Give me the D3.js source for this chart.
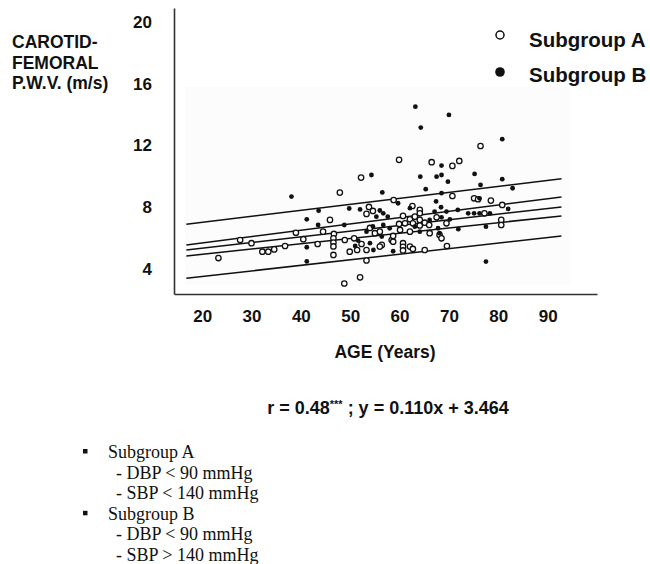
<!DOCTYPE html>
<html><head><meta charset="utf-8">
<script src="https://cdn.jsdelivr.net/npm/d3@7"></script>
<style>
html,body{margin:0;padding:0;background:#fff;}
svg{display:block;}
</style></head>
<body>
<script>
// ---- DATA ----
const xTicks = [20, 30, 40, 50, 60, 70, 80, 90];
const yTicks = [4, 8, 12, 16, 20];

// Subgroup A (open circles): age, PWV
const ageA = [47.9,52.2,59.9,76.4,66.5,72.1,70.7,70.7,75.1,75.9,78.5,58.8,80.8,62.6,45.9,44.5,39.0,27.7,30.0,46.7,
  40.5,43.4,36.8,32.2,33.4,34.6,23.3,46.6,46.6,46.6,46.6,53.3,52.0,48.8,53.8,54.6,53.3,48.9,50.8,52.3,
  49.9,51.4,53.3,56.0,58.4,56.4,64.1,64.1,60.7,62.1,63.1,64.1,59.9,61.1,62.7,64.1,65.1,67.5,69.5,54.0,
  55.0,60.1,62.1,66.0,66.1,68.1,58.7,58.7,56.0,68.5,60.7,60.7,60.7,62.1,62.7,65.1,69.6,77.2,80.6,80.6];
const pwvA = [8.94,9.91,11.06,11.96,10.91,10.99,10.67,8.72,8.57,8.51,8.42,8.46,8.14,8.07,7.17,6.41,6.34,5.87,5.66,6.26,
  5.92,5.61,5.48,5.11,5.11,5.26,4.70,4.90,5.98,5.70,5.45,4.54,3.45,3.05,8.01,7.75,7.56,5.87,5.98,5.61,
  5.11,5.22,5.22,6.41,5.87,5.55,7.82,7.60,7.43,7.21,7.38,7.17,6.91,6.95,6.95,6.81,6.99,7.34,6.95,6.65,
  6.31,6.52,6.41,6.84,6.31,6.20,6.13,5.76,5.44,5.98,5.66,5.42,5.19,5.44,5.29,5.22,5.48,7.60,7.17,6.84];

// Subgroup B (filled circles): age, PWV
const ageB = [38.1,54.3,56.5,63.2,70.0,64.3,80.8,68.5,64.2,67.5,68.5,69.8,75.2,80.8,82.9,76.4,65.3,68.5,76.2,67.4,
  59.7,62.1,68.4,82.0,43.6,41.2,43.5,48.8,41.2,41.2,49.8,52.0,56.0,57.6,55.3,54.6,58.0,58.7,53.3,51.6,
  54.0,51.0,56.7,67.1,69.5,71.8,66.1,68.5,70.2,71.9,56.7,63.1,64.1,67.8,56.4,54.7,73.9,75.1,76.2,78.3,
  77.5,77.5,68.1];
const pwvB = [8.68,10.08,8.95,14.51,13.97,13.15,12.40,10.69,9.97,9.97,10.08,9.65,10.15,9.81,9.22,9.44,9.16,8.90,8.57,8.37,
  8.25,7.93,7.99,7.88,7.77,7.21,6.84,6.84,5.40,4.48,7.91,7.85,7.78,7.38,7.38,6.75,6.63,5.14,6.41,5.83,
  5.66,5.48,7.60,7.71,7.71,7.82,7.17,7.34,7.21,6.57,6.84,6.73,6.41,6.63,6.09,5.22,7.60,7.60,7.60,7.60,
  6.73,4.47,6.31];

// Fitted lines (upper prediction, upper CI, regression, lower CI, lower prediction)
const lineAge = [16.8, 92.8];
const lineStart = [6.89, 5.55, 5.22, 4.83, 3.39];
const lineEnd   = [9.83, 8.66, 8.01, 7.43, 6.13];

const legendLabels = ["Subgroup A", "Subgroup B"];
const yTitle = ["CAROTID-", "FEMORAL", "P.W.V. (m/s)"];
const xTitle = "AGE (Years)";
const notes = [
  {bullet:true, text:"Subgroup A"},
  {bullet:false, text:"- DBP < 90 mmHg"},
  {bullet:false, text:"- SBP < 140 mmHg"},
  {bullet:true, text:"Subgroup B"},
  {bullet:false, text:"- DBP < 90 mmHg"},
  {bullet:false, text:"- SBP > 140 mmHg"}
];

// ---- DRAW ----
const W = 650, H = 564;
const svg = d3.select("body").append("svg").attr("width", W).attr("height", H)
  .style("font-family", "'Liberation Sans', Arial, sans-serif");

const x = d3.scaleLinear().domain([14.3, 100]).range([174, 597]);
const y = d3.scaleLinear().domain([2.37, 20.9]).range([294, 8]);

// very faint background patch
svg.append("rect").attr("x", 185).attr("y", 87).attr("width", 385).attr("height", 198)
  .attr("fill", "#fcfcfc");

// axes
const xAxis = d3.axisBottom(x).tickValues(xTicks).tickSize(0).tickPadding(16).tickFormat(d3.format("d"));
const yAxis = d3.axisLeft(y).tickValues(yTicks).tickSize(0).tickPadding(22).tickFormat(d3.format("d"));
const gx = svg.append("g").attr("transform", "translate(0,294)").call(xAxis);
const gy = svg.append("g").attr("transform", "translate(174,0)").call(yAxis);
[gx, gy].forEach(g => {
  g.select(".domain").attr("stroke", "#333").attr("stroke-width", 1.6);
  g.selectAll("text").attr("fill", "#111").style("font-size", "17px").style("font-weight", "bold")
    .style("font-family", "'Liberation Sans', Arial, sans-serif");
});

// fitted lines
const lg = svg.append("g");
lineStart.forEach((s, i) => {
  lg.append("line")
    .attr("x1", x(lineAge[0])).attr("y1", y(s))
    .attr("x2", x(lineAge[1])).attr("y2", y(lineEnd[i]))
    .attr("stroke", "#111").attr("stroke-width", 1.5);
});

// points
const pg = svg.append("g");
pg.selectAll("circle.a").data(ageA.map((a, i) => [a, pwvA[i]])).join("circle")
  .attr("class", "a").attr("cx", d => x(d[0])).attr("cy", d => y(d[1])).attr("r", 2.7)
  .attr("fill", "#fff").attr("stroke", "#111").attr("stroke-width", 1.3);
pg.selectAll("circle.b").data(ageB.map((a, i) => [a, pwvB[i]])).join("circle")
  .attr("class", "b").attr("cx", d => x(d[0])).attr("cy", d => y(d[1])).attr("r", 2.4)
  .attr("fill", "#111");

// y title
svg.append("text").attr("x", 12).attr("y", 48).attr("fill", "#111")
  .style("font-size", "17.5px").style("font-weight", "bold")
  .selectAll("tspan").data(yTitle).join("tspan")
  .attr("x", 12).attr("dy", (d, i) => i === 0 ? 0 : 20.5).text(d => d);

// x title
svg.append("text").attr("x", 385).attr("y", 358).attr("text-anchor", "middle").attr("fill", "#111")
  .style("font-size", "17.5px").style("font-weight", "bold").text(xTitle);

// equation
const eq = svg.append("text").attr("x", 388).attr("y", 414).attr("text-anchor", "middle").attr("fill", "#111")
  .style("font-size", "18px").style("font-weight", "bold");
eq.append("tspan").text("r = 0.48");
eq.append("tspan").attr("dy", -6).style("font-size", "11px").text("***");
eq.append("tspan").attr("dy", 6).text(" ; y = 0.110x + 3.464");

// legend
const leg = svg.append("g");
leg.append("circle").attr("cx", 500).attr("cy", 35).attr("r", 4).attr("fill", "#fff")
  .attr("stroke", "#111").attr("stroke-width", 1.5);
leg.append("circle").attr("cx", 500).attr("cy", 72).attr("r", 4.8).attr("fill", "#111");
legendLabels.forEach((t, i) => {
  leg.append("text").attr("x", 529).attr("y", 47 + i * 35).attr("fill", "#111")
    .style("font-size", "20.5px").style("font-weight", "bold").text(t);
});

// notes
const ng = svg.append("g").style("font-family", "'Liberation Serif', 'Times New Roman', serif");
notes.forEach((n, i) => {
  const yy = 458 + i * 20.6;
  if (n.bullet) {
    ng.append("rect").attr("x", 83).attr("y", yy - 9).attr("width", 4.5).attr("height", 4.5).attr("fill", "#111");
  }
  ng.append("text").attr("x", n.bullet ? 108 : 116).attr("y", yy).attr("fill", "#111")
    .style("font-size", "18px").text(n.text);
});
</script>
</body></html>
